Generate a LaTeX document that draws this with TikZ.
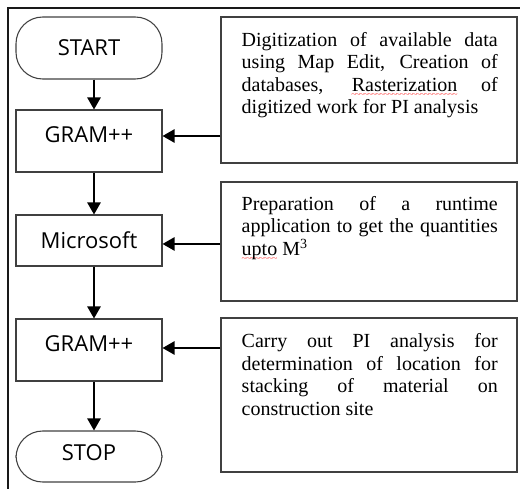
\documentclass[tikz,border=0pt]{standalone}
\usepackage{fontspec}
\setmainfont{Liberation Serif}
\newfontfamily\labelfont{Open Sans}
\usetikzlibrary{arrows.meta}
\newsavebox{\spellbox}
\newcommand{\spellwave}[1]{\sbox\spellbox{#1}\rlap{\lower4.5pt\hbox to \wd\spellbox{\color{red!70}\fontsize{7}{7}\selectfont\xleaders\hbox{\kern-0.4pt\char"7E\kern-0.4pt}\hfill}}\usebox\spellbox}
\newcommand{\fullline}[1]{\hbox to 192pt{#1}}
\newcommand{\lastline}[1]{\hbox{#1}}

\begin{document}
\begin{tikzpicture}[x=0.75pt,y=-0.75pt,
			termnode/.style={draw=black!75, line width=0.8pt, rounded corners=20pt, minimum width=109.5pt, inner sep=0pt, font=\labelfont\fontsize{16.5}{19}\selectfont, text height=11.8pt, text depth=0pt},
			procnode/.style={draw=black!75, line width=0.8pt, minimum width=109.5pt, inner sep=0pt, font=\labelfont\fontsize{16.5}{19}\selectfont, text height=11.8pt, text depth=0pt},
			infobox/.style={draw=black!75, line width=0.8pt, minimum width=222pt, inner sep=0pt},
			infotext/.style={anchor=north west, inner sep=0pt, font=\fontsize{15}{16.8}\selectfont},
			flow/.style={-{Triangle[length=9pt,width=10pt]}, line width=1.1pt},
			frameline/.style={line width=1.6pt, black!90},
			]
			\useasboundingbox (0,0) rectangle (520,488);
			\draw[frameline] (8,492) -- (8,8) -- (524,8);
			% flow chart
			\node[termnode, minimum height=46.5pt] at (89,48) (start) {START};
			\node[procnode, minimum height=46.5pt, text depth=9pt] at (89,141) (gram) {GRAM++};
			\node[procnode, minimum height=38.25pt] at (89,240.5) (micro) {Microsoft};
			\node[procnode, minimum height=46.5pt, text depth=9pt] at (89,350) (gramb) {GRAM++};
			\node[termnode, minimum height=38.25pt, text depth=6pt] at (89,456.5) (stop) {STOP};
			% description boxes
			\node[infobox, minimum height=109.5pt] at (369,90) (digit) {};
			\node[infobox, minimum height=89.25pt] at (369,241.5) (prep) {};
			\node[infobox, minimum height=115.5pt] at (369,395) (carry) {};
			\node[infotext] at ([xshift=15.75pt,yshift=-11.7pt]digit.north west) (digittext) {\vbox{\fullline{Digitization of available data}\fullline{using Map Edit, Creation of}\fullline{databases, \spellwave{Rasterization} of}\lastline{digitized work for PI analysis}}};
			\node[infotext] at ([xshift=15.75pt,yshift=-11pt]prep.north west) (preptext) {\vbox{\fullline{Preparation of a runtime}\fullline{application to get the quantities}\lastline{\spellwave{upto} M\textsuperscript{3}}}};
			\node[infotext] at ([xshift=15.75pt,yshift=-12pt]carry.north west) (carrytext) {\vbox{\fullline{Carry out PI analysis for}\fullline{determination of location for}\fullline{stacking of material on}\lastline{construction site}}};
			\draw[flow] ([xshift=3.75pt]start.south) -- ([xshift=3.75pt]gram.north);
			\draw[flow] ([xshift=3.75pt]gram.south) -- ([xshift=3.75pt]micro.north);
			\draw[flow] ([xshift=3.75pt]micro.south) -- ([xshift=3.75pt]gramb.north);
			\draw[flow] ([xshift=3.75pt]gramb.south) -- ([xshift=3.75pt]stop.north);
			\draw[flow] ([yshift=3.75pt]gram.east -| digit.west) -- ([yshift=3.75pt]gram.east);
			\draw[flow] ([yshift=-2.6pt]micro.east -| prep.west) -- ([yshift=-2.6pt]micro.east);
			\draw[flow] ([yshift=1.5pt]gramb.east -| carry.west) -- ([yshift=1.5pt]gramb.east);
		\end{tikzpicture}
\end{document}
